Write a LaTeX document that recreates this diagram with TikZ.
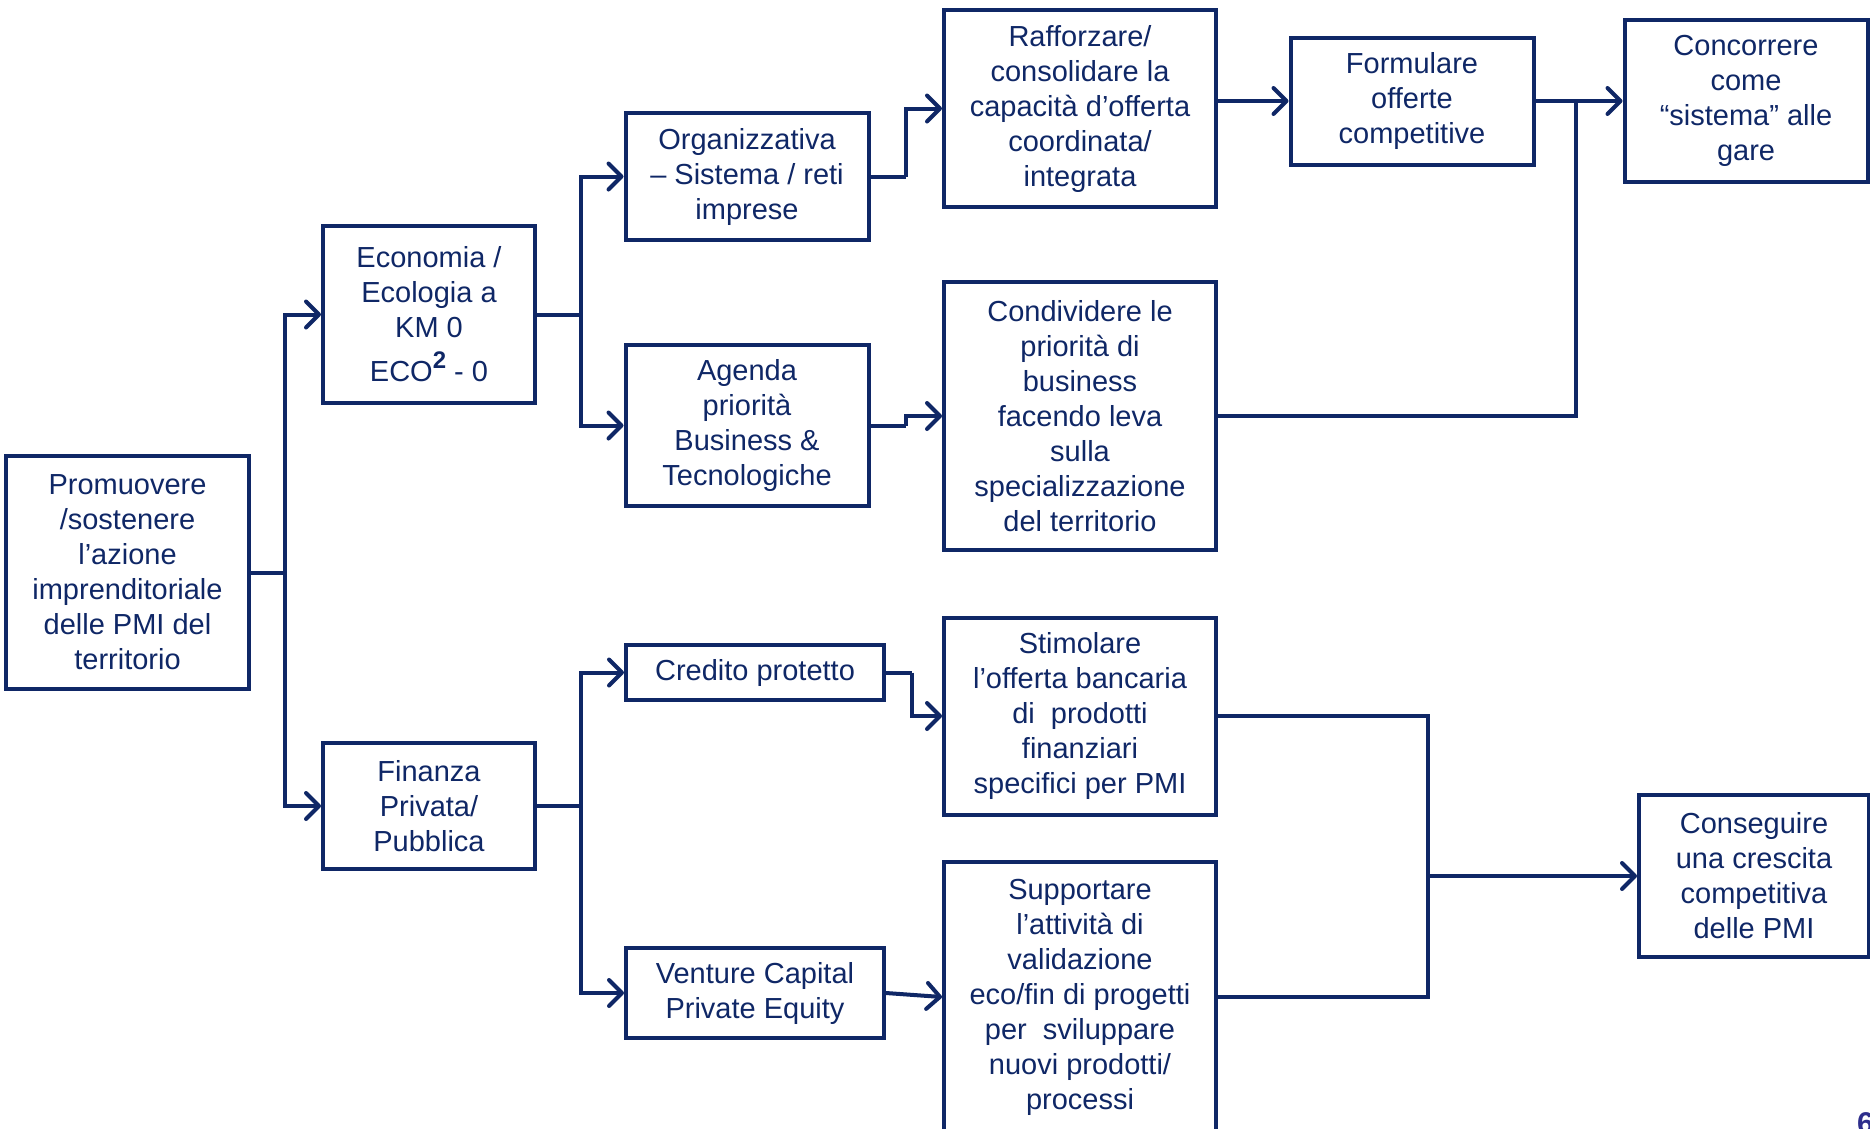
\documentclass[tikz,border=0pt]{standalone}
\usepackage{fontspec}
\setmainfont{Liberation Sans}
\usetikzlibrary{arrows.meta}
\definecolor{navy}{HTML}{0F2766}
\definecolor{pagecol}{HTML}{2E2E8C}
\begin{document}
\begin{tikzpicture}[x=1pt,y=-1pt,
  box/.style={draw=navy, line width=4pt, align=center, inner sep=0pt,
    text=navy, font=\fontsize{29}{35}\selectfont},
  link/.style={draw=navy, line width=4pt},
  arr/.style={link, -{Straight Barb[length=13pt,width=26pt,round]}}]
\useasboundingbox (0,0) rectangle (1870,1128);
\clip (0,0) rectangle (1870,1128);

% level 0
\node[box, minimum width=243pt, minimum height=233pt] (prom) at (127.5,572.5)
  {Promuovere\\/sostenere\\l’azione\\imprenditoriale\\delle PMI del\\territorio};

% level 1
\node[box, minimum width=212pt, minimum height=177pt] (eco) at (429,314.5)
  {Economia /\\Ecologia a\\KM 0\\[9pt]ECO\raisebox{0.45em}{\fontsize{24}{24}\selectfont\bfseries 2} - 0};
\node[box, minimum width=212pt, minimum height=126pt] (fin) at (429,806)
  {Finanza\\Privata/\\Pubblica};

% level 2
\node[box, minimum width=243pt, minimum height=127pt] (org) at (747,176.5)
  {Organizzativa\\– Sistema / reti\\imprese};
\node[box, minimum width=243pt, minimum height=161pt] (agd) at (747,425.5)
  {Agenda\\priorità\\Business \&\\Tecnologiche};
\node[box, minimum width=258pt, minimum height=55pt] (cred) at (755,672.5)
  {Credito protetto};
\node[box, minimum width=258pt, minimum height=90pt] (vent) at (755,993)
  {Venture Capital\\Private Equity};

% level 3
\node[box, minimum width=272pt, minimum height=197pt] (raff) at (1080,108.5)
  {Rafforzare/\\consolidare la\\capacità d’offerta\\coordinata/\\integrata};
\node[box, minimum width=272pt, minimum height=268pt] (cond) at (1080,416)
  {Condividere le\\priorità di\\business\\facendo leva\\sulla\\specializzazione\\del territorio};
\node[box, minimum width=272pt, minimum height=197pt] (stim) at (1080,716)
  {Stimolare\\l’offerta bancaria\\di\ \ prodotti\\finanziari\\specifici per PMI};
\node[box, minimum width=272pt, minimum height=270pt] (supp) at (1080,997)
  {Supportare\\l’attività di\\validazione\\eco/fin di progetti\\per\ \ sviluppare\\nuovi prodotti/\\processi};

% outcomes
\node[box, minimum width=243pt, minimum height=127pt] (form) at (1412,101)
  {Formulare\\offerte\\competitive};
\node[box, minimum width=243pt, minimum height=162pt] (conc) at (1746,101)
  {Concorrere\\come\\“sistema” alle\\gare};
\node[box, minimum width=230pt, minimum height=162pt] (cons) at (1754,876)
  {Conseguire\\una crescita\\competitiva\\delle PMI};

% page number
\node[anchor=north west, inner sep=0pt, text=pagecol,
  font=\fontsize{30}{30}\selectfont\bfseries] (pg) at (1857,1112) {6};

% junction points
\coordinate (b0) at (285,572.5);
\coordinate (b1) at (581,314.5);
\coordinate (b2) at (581,806);
\coordinate (j1) at (906,176.5);
\coordinate (j2) at (906,425.5);
\coordinate (j3) at (912,672.5);
\coordinate (j4) at (1576,101);
\coordinate (j5) at (1428,876);

% connectors
\draw[link] (prom.east) -- (b0);
\draw[arr] (b0) |- (eco.west);
\draw[arr] (b0) |- (fin.west);

\draw[link] (eco.east) -- (b1);
\draw[arr] (b1) |- (org.west);
\draw[arr] (b1) |- (agd.west);

\draw[link] (fin.east) -- (b2);
\draw[arr] (b2) |- (cred.west);
\draw[arr] (b2) |- (vent.west);

\draw[link] (org.east) -- (j1);
\draw[arr] (j1) |- (raff.west);
\draw[link] (agd.east) -- (j2);
\draw[arr] (j2) |- (cond.west);
\draw[link] (cred.east) -- (j3);
\draw[arr] (j3) |- (stim.west);
\draw[arr] (vent.east) -- (supp.west);

\draw[arr] (raff.east |- form.west) -- (form.west);
\draw[arr] (form.east) -- (conc.west);
\draw[link] (cond.east) -| (j4);

\draw[link] (stim.east) -| (j5);
\draw[link] (supp.east) -| (j5);
\draw[arr] (j5) -- (cons.west);
\end{tikzpicture}
\end{document}
